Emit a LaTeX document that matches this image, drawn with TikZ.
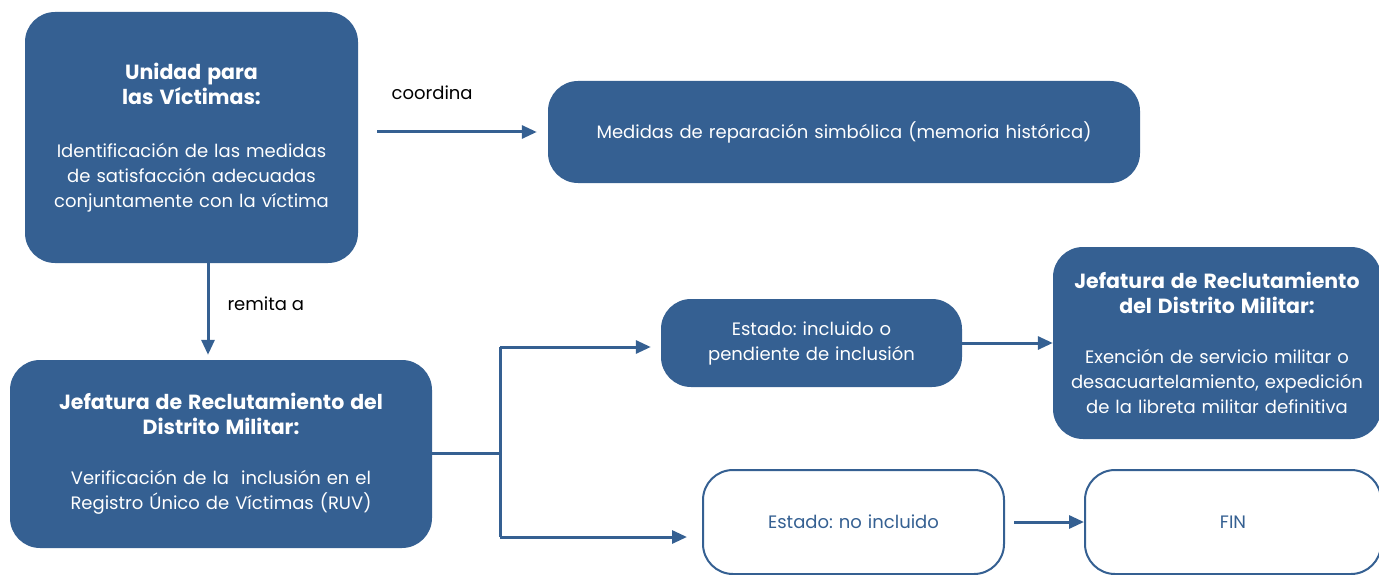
\documentclass[tikz,border=0pt]{standalone}
\usepackage{fontspec}
\setmainfont{Poppins}
\usetikzlibrary{arrows.meta,positioning}
\definecolor{azul}{RGB}{53,96,146}
\newcommand{\titulo}[1]{{\fontsize{20.5}{24}\selectfont\bfseries #1}}
\frenchspacing

\begin{document}
\begin{tikzpicture}[x=1pt, y=-1pt, >={Triangle[length=15pt,width=13pt]}, on grid,
	bloque/.style={rounded corners=30pt, fill=azul, text=white, align=center, inner sep=0pt, font=\fontsize{18}{25}\selectfont},
	vacio/.style={rounded corners=30pt, draw=azul, line width=2pt, fill=white, text=azul, align=center, inner sep=0pt, font=\fontsize{18}{25}\selectfont},
	linea/.style={draw=azul, line width=3pt},
	flecha/.style={linea, ->},
	etiqueta/.style={font=\fontsize{18}{25}\selectfont, inner sep=0pt}]
	\useasboundingbox (0,0) rectangle (1379,575);

	\node[bloque, text width=333pt, minimum height=251pt] (uv) at (191.5,137.5)
		{\titulo{Unidad para}\\\titulo{las Víctimas:}\\[28pt]Identificación de las medidas\\de satisfacción adecuadas\\conjuntamente con la víctima};
	\node[bloque, text width=592pt, minimum height=102pt] (med) [above right=5.5pt and 652.5pt of uv]
		{Medidas de reparación simbólica (memoria histórica)};
	\node[bloque, text width=422pt, minimum height=188pt] (jl) [below right=316.5pt and 29.5pt of uv]
		{\titulo{Jefatura de Reclutamiento del}\\\titulo{Distrito Militar:}\\[25pt]Verificación de la \ inclusión en el\\Registro Único de Víctimas (RUV)};
	\node[bloque, text width=301pt, minimum height=88pt] (inc) [above right=111pt and 590.5pt of jl]
		{Estado: incluido o\\pendiente de inclusión};
	\node[bloque, text width=328pt, minimum height=192pt] (jr) [right=405.5pt of inc]
		{\titulo{Jefatura de Reclutamiento}\\\titulo{del Distrito Militar:}\\[25pt]Exención de servicio militar o\\desacuartelamiento, expedición\\de la libreta militar definitiva};
	\node[vacio, text width=301pt, minimum height=104pt] (noinc) [below right=179pt and 42pt of inc]
		{Estado: no incluido};
	\node[vacio, text width=296pt, minimum height=104pt] (fin) [right=379.5pt of noinc] {FIN};

	\coordinate (bif) at (500,453);
	\coordinate (bifA) at (500,347);
	\coordinate (bifB) at (500,537);

	\draw[flecha, shorten <=19pt, shorten >=11pt] (uv.east |- med) -- (med.west)
		node[etiqueta, pos=0.39, above=31pt] {coordina};
	\draw[flecha, shorten >=5pt] ([xshift=16.5pt]uv.south) -- ([xshift=-13pt]jl.north)
		node[etiqueta, pos=0.42, right=18pt] {remita a};
	\draw[linea] (jl.east |- bif) -- (bif);
	\draw[linea] (bifA) -- (bifB);
	\draw[flecha, shorten >=10pt] (bifA) -- (bifA -| inc.west);
	\draw[flecha, shorten >=15pt] (bifB) -- (bifB -| noinc.west);
	\draw[flecha] (inc.east) -- (jr.west);
	\draw[flecha, shorten <=9pt] (noinc.east) -- (fin.west);
\end{tikzpicture}
\end{document}
